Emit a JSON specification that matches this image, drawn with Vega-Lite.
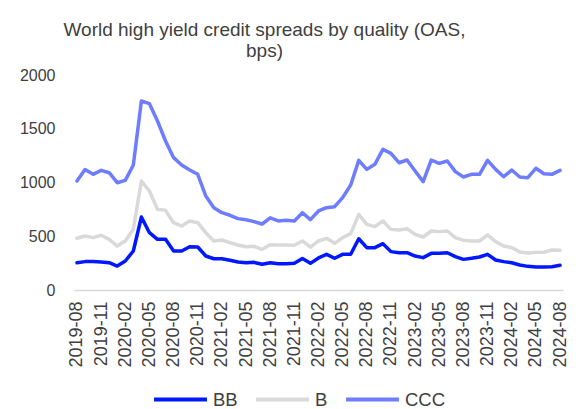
{
  "$schema": "https://vega.github.io/schema/vega-lite/v6.json",
  "autosize": "none",
  "width": 489,
  "height": 215,
  "padding": {"left": 74, "top": 75, "right": 18, "bottom": 119},
  "background": "#ffffff",
  "config": {
    "view": {"stroke": null},
    "font": "Liberation Sans"
  },
  "title": {
    "text": ["World high yield credit spreads by quality (OAS,", "bps)"],
    "fontSize": 19,
    "fontWeight": "normal",
    "color": "#404040",
    "lineHeight": 21,
    "anchor": "middle",
    "dx": -54,
    "offset": 6
  },
  "data": {
    "values": [
      {"month": "2019-08", "BB": 254, "B": 481, "CCC": 1014},
      {"month": "2019-09", "BB": 264, "B": 502, "CCC": 1120},
      {"month": "2019-10", "BB": 264, "B": 487, "CCC": 1076},
      {"month": "2019-11", "BB": 260, "B": 509, "CCC": 1113},
      {"month": "2019-12", "BB": 254, "B": 471, "CCC": 1091},
      {"month": "2020-01", "BB": 223, "B": 409, "CCC": 998},
      {"month": "2020-02", "BB": 270, "B": 456, "CCC": 1020},
      {"month": "2020-03", "BB": 363, "B": 565, "CCC": 1163},
      {"month": "2020-04", "BB": 679, "B": 1014, "CCC": 1758},
      {"month": "2020-05", "BB": 533, "B": 921, "CCC": 1733},
      {"month": "2020-06", "BB": 471, "B": 750, "CCC": 1572},
      {"month": "2020-07", "BB": 471, "B": 741, "CCC": 1386},
      {"month": "2020-08", "BB": 363, "B": 626, "CCC": 1231},
      {"month": "2020-09", "BB": 363, "B": 595, "CCC": 1163},
      {"month": "2020-10", "BB": 403, "B": 642, "CCC": 1116},
      {"month": "2020-11", "BB": 400, "B": 626, "CCC": 1076},
      {"month": "2020-12", "BB": 316, "B": 533, "CCC": 874},
      {"month": "2021-01", "BB": 291, "B": 456, "CCC": 766},
      {"month": "2021-02", "BB": 291, "B": 465, "CCC": 719},
      {"month": "2021-03", "BB": 276, "B": 440, "CCC": 695},
      {"month": "2021-04", "BB": 260, "B": 419, "CCC": 664},
      {"month": "2021-05", "BB": 254, "B": 403, "CCC": 654},
      {"month": "2021-06", "BB": 257, "B": 406, "CCC": 636},
      {"month": "2021-07", "BB": 239, "B": 378, "CCC": 614},
      {"month": "2021-08", "BB": 254, "B": 422, "CCC": 672},
      {"month": "2021-09", "BB": 245, "B": 419, "CCC": 642},
      {"month": "2021-10", "BB": 245, "B": 419, "CCC": 648},
      {"month": "2021-11", "BB": 248, "B": 416, "CCC": 642},
      {"month": "2021-12", "BB": 293, "B": 456, "CCC": 719},
      {"month": "2022-01", "BB": 248, "B": 398, "CCC": 655},
      {"month": "2022-02", "BB": 298, "B": 456, "CCC": 735},
      {"month": "2022-03", "BB": 332, "B": 481, "CCC": 766},
      {"month": "2022-04", "BB": 295, "B": 434, "CCC": 775},
      {"month": "2022-05", "BB": 332, "B": 487, "CCC": 859},
      {"month": "2022-06", "BB": 332, "B": 524, "CCC": 977},
      {"month": "2022-07", "BB": 477, "B": 704, "CCC": 1206},
      {"month": "2022-08", "BB": 394, "B": 611, "CCC": 1122},
      {"month": "2022-09", "BB": 394, "B": 589, "CCC": 1169},
      {"month": "2022-10", "BB": 431, "B": 642, "CCC": 1308},
      {"month": "2022-11", "BB": 357, "B": 564, "CCC": 1271},
      {"month": "2022-12", "BB": 347, "B": 558, "CCC": 1184},
      {"month": "2023-01", "BB": 347, "B": 570, "CCC": 1209},
      {"month": "2023-02", "BB": 316, "B": 518, "CCC": 1107},
      {"month": "2023-03", "BB": 301, "B": 493, "CCC": 1008},
      {"month": "2023-04", "BB": 341, "B": 549, "CCC": 1209},
      {"month": "2023-05", "BB": 341, "B": 543, "CCC": 1178},
      {"month": "2023-06", "BB": 347, "B": 549, "CCC": 1200},
      {"month": "2023-07", "BB": 310, "B": 487, "CCC": 1101},
      {"month": "2023-08", "BB": 285, "B": 462, "CCC": 1051},
      {"month": "2023-09", "BB": 295, "B": 456, "CCC": 1076},
      {"month": "2023-10", "BB": 307, "B": 456, "CCC": 1076},
      {"month": "2023-11", "BB": 332, "B": 512, "CCC": 1206},
      {"month": "2023-12", "BB": 279, "B": 450, "CCC": 1122},
      {"month": "2024-01", "BB": 264, "B": 409, "CCC": 1054},
      {"month": "2024-02", "BB": 254, "B": 394, "CCC": 1116},
      {"month": "2024-03", "BB": 233, "B": 353, "CCC": 1051},
      {"month": "2024-04", "BB": 220, "B": 344, "CCC": 1045},
      {"month": "2024-05", "BB": 214, "B": 350, "CCC": 1132},
      {"month": "2024-06", "BB": 214, "B": 351, "CCC": 1082},
      {"month": "2024-07", "BB": 217, "B": 372, "CCC": 1076},
      {"month": "2024-08", "BB": 230, "B": 369, "CCC": 1113}
    ]
  },
  "transform": [
    {"fold": ["BB", "B", "CCC"], "as": ["rating", "oas"]}
  ],
  "mark": {
    "type": "line",
    "strokeWidth": 3.5,
    "strokeJoin": "round",
    "strokeCap": "round"
  },
  "encoding": {
    "x": {
      "field": "month",
      "type": "ordinal",
      "sort": "ascending",
      "scale": {"type": "point", "padding": 0.37},
      "axis": {
        "title": null,
        "values": ["2019-08", "2019-11", "2020-02", "2020-05", "2020-08", "2020-11", "2021-02", "2021-05", "2021-08", "2021-11", "2022-02", "2022-05", "2022-08", "2022-11", "2023-02", "2023-05", "2023-08", "2023-11", "2024-02", "2024-05", "2024-08"],
        "labelAngle": -90,
        "labelFontSize": 18,
        "labelColor": "#404040",
        "labelPadding": 11,
        "ticks": false,
        "domainColor": "#d9d9d9",
        "domainWidth": 1.5,
        "grid": false
      }
    },
    "y": {
      "field": "oas",
      "type": "quantitative",
      "scale": {"domain": [0, 2000], "nice": false},
      "axis": {
        "title": null,
        "values": [0, 500, 1000, 1500, 2000],
        "format": "d",
        "labelFontSize": 16,
        "labelColor": "#404040",
        "labelPadding": 19,
        "ticks": false,
        "domain": false,
        "grid": false
      }
    },
    "color": {
      "field": "rating",
      "type": "nominal",
      "scale": {"domain": ["BB", "B", "CCC"], "range": ["#0018ff", "#d9d9d9", "#6e7dff"]},
      "legend": {
        "title": null,
        "orient": "none",
        "direction": "horizontal",
        "legendX": 78,
        "legendY": 296,
        "symbolType": "stroke",
        "symbolSize": 2800,
        "symbolStrokeWidth": 4,
        "labelFontSize": 18.5,
        "labelColor": "#404040",
        "labelOffset": 4,
        "columnPadding": 10
      }
    }
  }
}
